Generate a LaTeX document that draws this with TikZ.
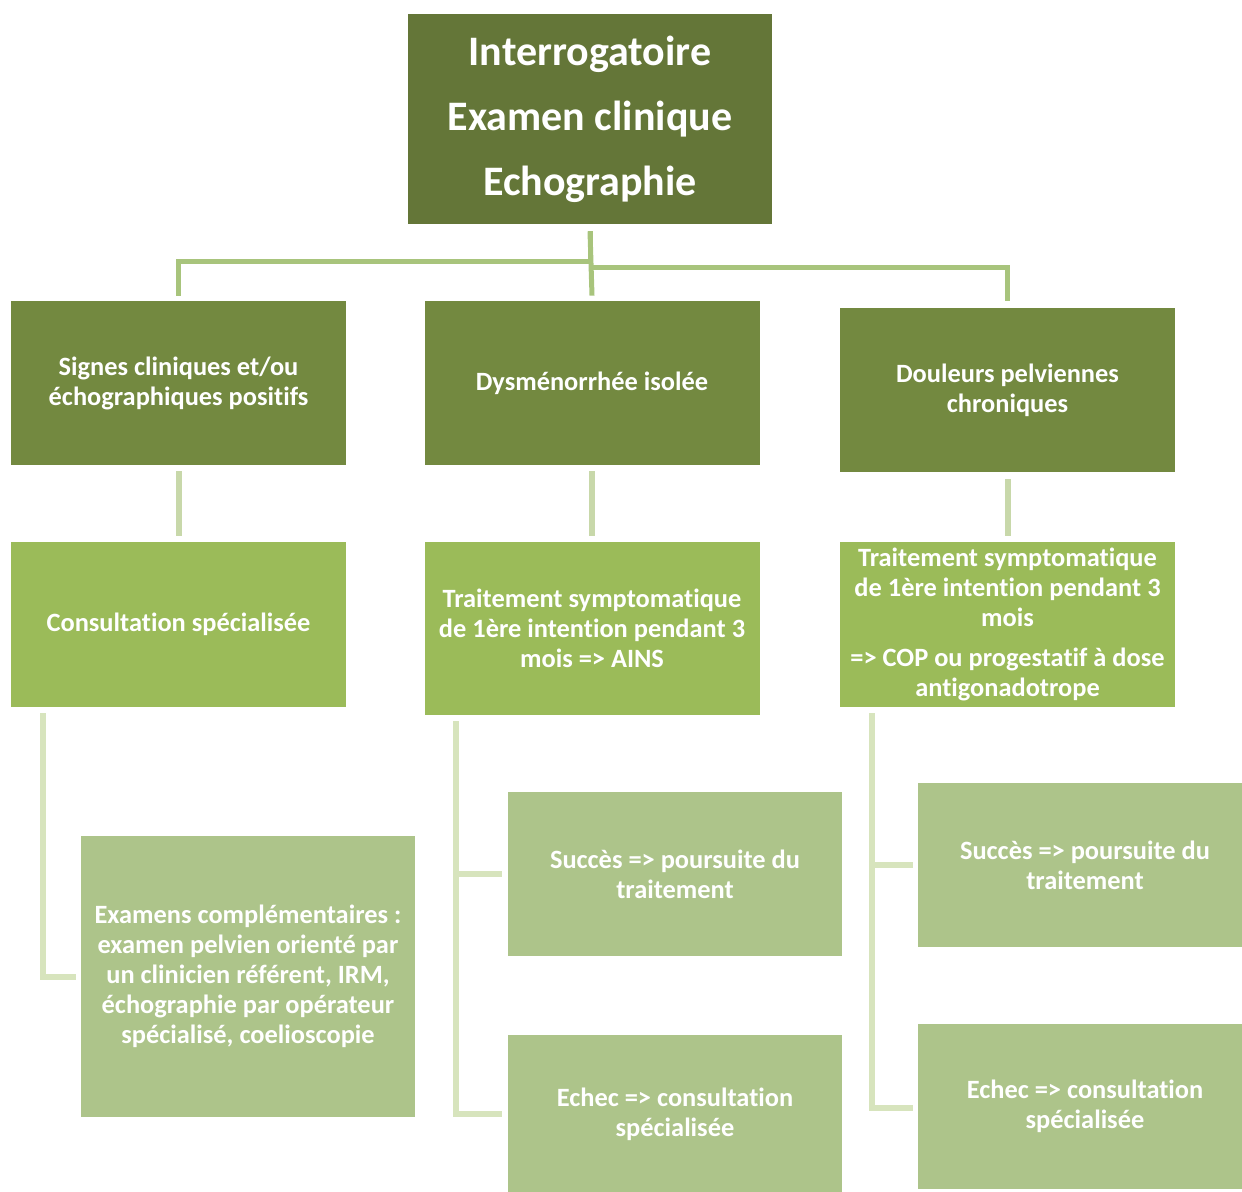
\documentclass[tikz,border=0pt]{standalone}
\usepackage{fontspec}
\setmainfont[Ligatures=NoCommon]{Carlito}
\definecolor{topgreen}{RGB}{100,118,56}
\definecolor{midgreen}{RGB}{115,137,64}
\definecolor{lowgreen}{RGB}{155,187,89}
\definecolor{palegreen}{RGB}{173,196,138}
\definecolor{linktop}{RGB}{168,196,124}
\definecolor{linkmid}{RGB}{200,216,170}
\definecolor{linklow}{RGB}{215,228,189}
\begin{document}
\begin{tikzpicture}[x=0.5pt, y=-0.5pt,
  box/.style = {inner sep=0pt, text=white, align=center, font=\bfseries\fontsize{13.2}{15}\selectfont},
  head/.style = {box, fill=topgreen, minimum width=182pt, minimum height=105pt, font=\bfseries\fontsize{21}{32.5}\selectfont},
  first/.style = {box, fill=midgreen, minimum width=167.5pt, minimum height=82pt},
  second/.style = {box, fill=lowgreen, minimum width=167.5pt, minimum height=82.5pt},
  third/.style = {box, fill=palegreen, minimum width=167pt, minimum height=82pt},
  toplink/.style = {draw=linktop, line width=2.5pt},
  midlink/.style = {draw=linkmid, line width=3pt},
  lowlink/.style = {draw=linklow, line width=3pt}]
\useasboundingbox (0,0) rectangle (1242,1192);

\node[head] (top) at (590,119) {Interrogatoire\\Examen clinique\\Echographie};

\node[first] (signes) at (178.5,383) {Signes cliniques et/ou\\échographiques positifs};
\node[first] (dysm) at (592,383) {Dysménorrhée isolée};
\node[first] (doul) at (1007.5,390) {Douleurs pelviennes\\chroniques};

\node[second] (consult) at (178.5,624.5) {Consultation spécialisée};
\node[second, minimum height=86.5pt] (ains) at (592,628.5) {Traitement symptomatique\\de 1ère intention pendant 3\\mois => AINS};
\node[second] (cop) at (1007.5,624.5) {Traitement symptomatique\\de 1ère intention pendant 3\\mois\\[5pt]=> COP ou progestatif à dose\\antigonadotrope};

\node[third, minimum height=140.5pt] (exam) at (248,976.5) {Examens complémentaires :\\examen pelvien orienté par\\un clinicien référent, IRM,\\échographie par opérateur\\spécialisé, coelioscopie};
\node[third] (succesB) at (675,874) {Succès => poursuite du\\traitement};
\node[third, minimum height=79pt] (echecB) at (675,1114) {Echec => consultation\\spécialisée};
\node[third] (succesC) at (1085,865) {Succès => poursuite du\\traitement};
\node[third, minimum height=82.5pt] (echecC) at (1085,1106.5) {Echec => consultation\\spécialisée};

% first level
\draw[toplink] ([yshift=-3.5pt]top.south) -- ([yshift=2.5pt]dysm.north);
\draw[toplink] ([yshift=-3.5pt]top.south) |- (590,262) -| ([yshift=2.5pt]signes.north);
\draw[toplink] (590,268) -| ([yshift=3.5pt]doul.north);

% second level
\draw[midlink] ([yshift=-3pt]signes.south) -- ([yshift=3pt]consult.north);
\draw[midlink] ([yshift=-3pt]dysm.south) -- ([yshift=3pt]ains.north);
\draw[midlink] ([yshift=-3.5pt]doul.south) -- ([yshift=3pt]cop.north);

% third level
\draw[lowlink] ([xshift=16pt, yshift=-3pt]consult.south west) |- ([xshift=-2.5pt]exam.west);
\draw[lowlink] ([xshift=16pt, yshift=-3pt]ains.south west) |- ([xshift=-3pt]succesB.west);
\draw[lowlink] ([xshift=16pt, yshift=-3pt]ains.south west) |- ([xshift=-3pt]echecB.west);
\draw[lowlink] ([xshift=16pt, yshift=-3pt]cop.south west) |- ([xshift=-2.5pt]succesC.west);
\draw[lowlink] ([xshift=16pt, yshift=-3pt]cop.south west) |- ([xshift=-2.5pt, yshift=-0.5pt]echecC.west);

\end{tikzpicture}
\end{document}
